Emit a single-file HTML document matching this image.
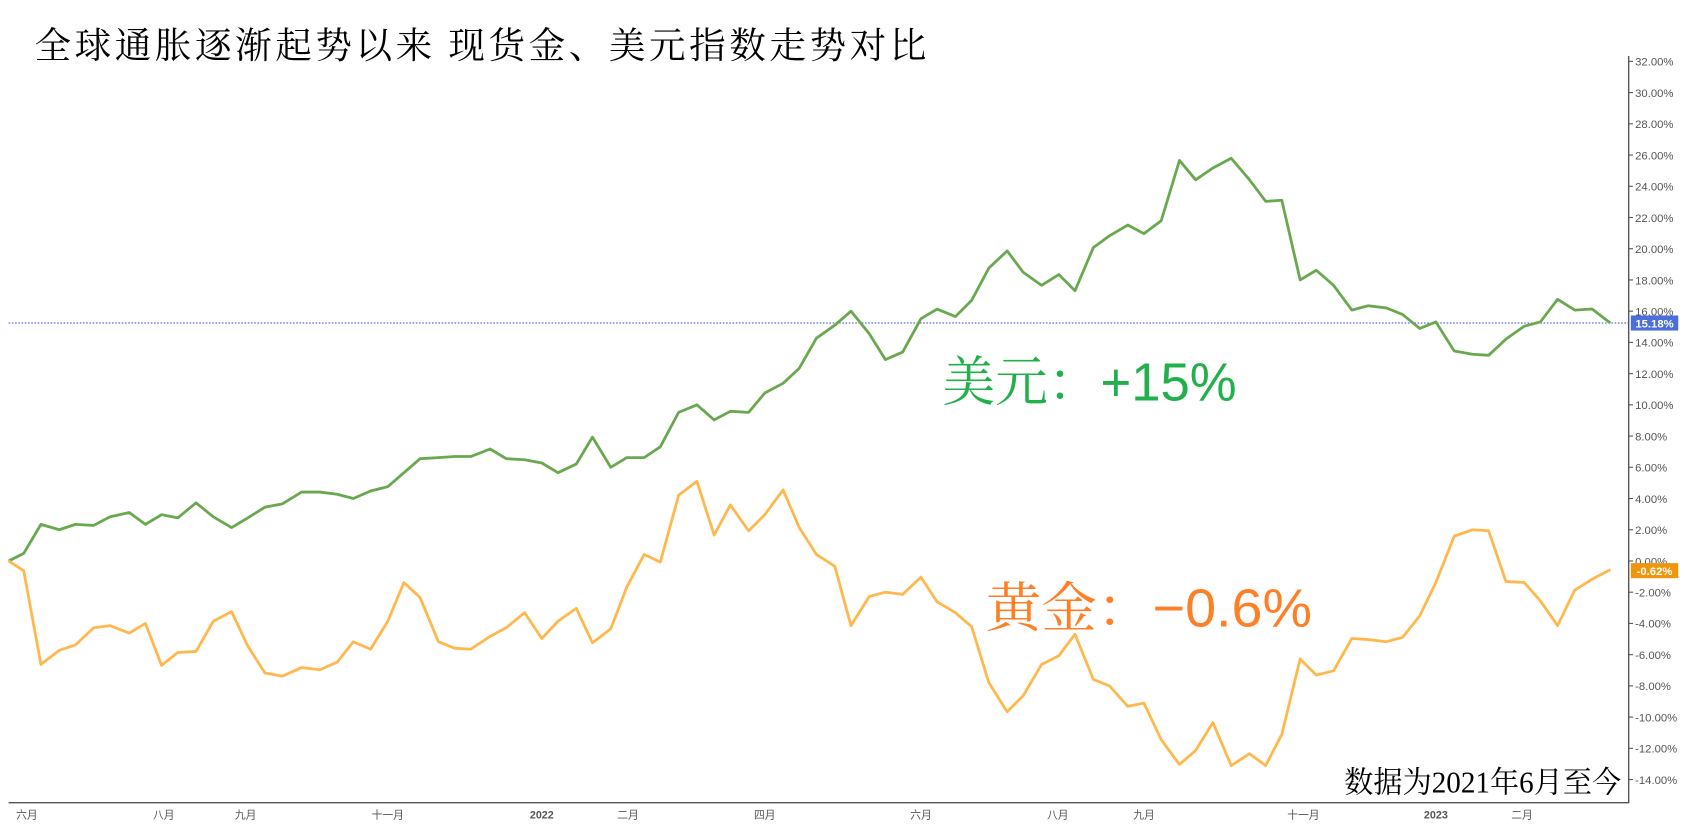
<!DOCTYPE html>
<html><head><meta charset="utf-8"><style>
html,body{margin:0;padding:0;background:#fff;}
svg{display:block;}
</style></head><body>
<svg width="1689" height="828" viewBox="0 0 1568 769" preserveAspectRatio="none" xmlns="http://www.w3.org/2000/svg">
<rect width="1568" height="769" fill="#fff"/>
<text x="32" y="54" font-family="'Liberation Serif','Noto Serif CJK SC',serif" font-size="34" fill="#000" textLength="828" lengthAdjust="spacing">全球通胀逐渐起势以来 现货金、美元指数走势对比</text>
<!-- axes -->
<line x1="1512" y1="52" x2="1512" y2="746" stroke="#555" stroke-width="1.3"/>
<line x1="8" y1="745.5" x2="1512" y2="745.5" stroke="#555" stroke-width="1.3"/>
<g font-family="'Liberation Sans',sans-serif" font-size="10.5" fill="#555">
<text x="1518" y="61">32.00%</text>
<text x="1518" y="90">30.00%</text>
<text x="1518" y="119">28.00%</text>
<text x="1518" y="148">26.00%</text>
<text x="1518" y="177">24.00%</text>
<text x="1518" y="206">22.00%</text>
<text x="1518" y="235">20.00%</text>
<text x="1518" y="264">18.00%</text>
<text x="1518" y="293">16.00%</text>
<text x="1518" y="322">14.00%</text>
<text x="1518" y="351">12.00%</text>
<text x="1518" y="380">10.00%</text>
<text x="1518" y="409">8.00%</text>
<text x="1518" y="438">6.00%</text>
<text x="1518" y="467">4.00%</text>
<text x="1518" y="496">2.00%</text>
<text x="1518" y="525">0.00%</text>
<text x="1518" y="554">-2.00%</text>
<text x="1518" y="583">-4.00%</text>
<text x="1518" y="612">-6.00%</text>
<text x="1518" y="641">-8.00%</text>
<text x="1518" y="670">-10.00%</text>
<text x="1518" y="699">-12.00%</text>
<text x="1518" y="728">-14.00%</text>
</g>
<g stroke="#555" stroke-width="1">
<line x1="1512" y1="57" x2="1516" y2="57"/><line x1="1512" y1="86" x2="1516" y2="86"/><line x1="1512" y1="115" x2="1516" y2="115"/><line x1="1512" y1="144" x2="1516" y2="144"/><line x1="1512" y1="173" x2="1516" y2="173"/><line x1="1512" y1="202" x2="1516" y2="202"/><line x1="1512" y1="231" x2="1516" y2="231"/><line x1="1512" y1="260" x2="1516" y2="260"/><line x1="1512" y1="289" x2="1516" y2="289"/><line x1="1512" y1="318" x2="1516" y2="318"/><line x1="1512" y1="347" x2="1516" y2="347"/><line x1="1512" y1="376" x2="1516" y2="376"/><line x1="1512" y1="405" x2="1516" y2="405"/><line x1="1512" y1="434" x2="1516" y2="434"/><line x1="1512" y1="463" x2="1516" y2="463"/><line x1="1512" y1="492" x2="1516" y2="492"/><line x1="1512" y1="521" x2="1516" y2="521"/><line x1="1512" y1="550" x2="1516" y2="550"/><line x1="1512" y1="579" x2="1516" y2="579"/><line x1="1512" y1="608" x2="1516" y2="608"/><line x1="1512" y1="637" x2="1516" y2="637"/><line x1="1512" y1="666" x2="1516" y2="666"/><line x1="1512" y1="695" x2="1516" y2="695"/><line x1="1512" y1="724" x2="1516" y2="724"/>
</g>
<g font-family="'Liberation Sans','Noto Sans CJK SC',sans-serif" font-size="10" fill="#555" text-anchor="middle">
<text x="25" y="760">六月</text><text x="152" y="760">八月</text><text x="228" y="760">九月</text><text x="360" y="760">十一月</text><text x="503" y="760" font-weight="bold">2022</text><text x="583" y="760">二月</text><text x="710" y="760">四月</text><text x="855" y="760">六月</text><text x="982" y="760">八月</text><text x="1062" y="760">九月</text><text x="1210" y="760">十一月</text><text x="1333" y="760" font-weight="bold">2023</text><text x="1413" y="760">二月</text>
</g>
<line x1="8" y1="300" x2="1512" y2="300" stroke="#2b4fd6" stroke-width="1" stroke-dasharray="1.5,1.5"/>
<polyline fill="none" stroke="#6aa84f" stroke-width="2.6" stroke-linejoin="round" points="8,521 22,514 38,487 55,492 70,487 87,488 102,480 120,476 135,487 150,478 165,481 182,467 198,480 215,490 230,481 246,471 262,468 280,457 297,457 313,459 328,463 344,456 360,452 375,439 390,426 407,425 422,424 437,424 455,417 470,426 487,427 503,430 518,439 535,431 550,406 567,434 582,425 598,425 613,415 630,383 647,376 663,390 678,382 695,383 710,365 727,356 742,342 758,314 775,302 790,289 807,310 822,334 838,327 855,296 870,287 887,294 902,279 918,249 935,233 950,253 967,265 983,255 998,270 1015,230 1030,219 1047,209 1062,217 1078,205 1095,149 1110,167 1126,156 1143,147 1160,167 1175,187 1190,186 1207,260 1222,251 1238,265 1255,288 1270,284 1287,286 1302,292 1318,305 1333,299 1350,326 1367,329 1382,330 1398,315 1415,303 1430,299 1446,278 1462,288 1478,287 1495,300"/>
<polyline fill="none" stroke="#ffb84d" stroke-width="2.6" stroke-linejoin="round" points="8,521 22,530 38,617 55,604 70,599 87,583 102,581 120,588 135,579 150,618 165,606 182,605 198,577 215,568 230,600 246,625 262,628 280,620 297,622 313,615 328,596 344,603 360,577 375,541 390,555 407,596 422,602 437,603 455,591 470,583 487,569 503,593 518,577 535,565 550,597 567,584 582,545 598,515 613,522 630,460 647,447 663,497 678,469 695,493 710,478 727,455 742,490 758,515 775,526 790,581 807,554 822,550 838,552 855,536 870,559 887,569 902,582 918,634 935,661 950,646 967,617 983,609 998,589 1015,631 1030,637 1047,656 1062,653 1078,687 1095,710 1110,697 1126,671 1143,711 1160,700 1175,711 1190,682 1207,612 1222,627 1238,623 1255,593 1270,594 1287,596 1302,592 1318,572 1333,541 1350,498 1367,492 1382,493 1398,540 1415,541 1430,558 1446,581 1462,548 1478,538 1495,529"/>
<rect x="1514" y="293" width="44" height="14" fill="#4a6fdc"/>
<text x="1536" y="304" font-family="'Liberation Sans',sans-serif" font-size="10.5" font-weight="bold" fill="#fff" text-anchor="middle">15.18%</text>
<rect x="1514" y="523" width="44" height="14" fill="#f0960c"/>
<text x="1536" y="534" font-family="'Liberation Sans',sans-serif" font-size="10.5" font-weight="bold" fill="#fff" text-anchor="middle">-0.62%</text>
<text x="875" y="372" font-family="'Liberation Sans','Noto Serif CJK SC',serif" font-size="50" fill="#22b04c" textLength="273" lengthAdjust="spacingAndGlyphs">美元：+15%</text>
<text x="915" y="582" font-family="'Liberation Sans','Noto Serif CJK SC',serif" font-size="50" fill="#ff7f27" textLength="303" lengthAdjust="spacingAndGlyphs">黄金：−0.6%</text>
<text x="1248" y="736" font-family="'Liberation Serif','Noto Serif CJK SC',serif" font-size="28" fill="#000" textLength="257" lengthAdjust="spacingAndGlyphs">数据为2021年6月至今</text>
</svg>
</body></html>
